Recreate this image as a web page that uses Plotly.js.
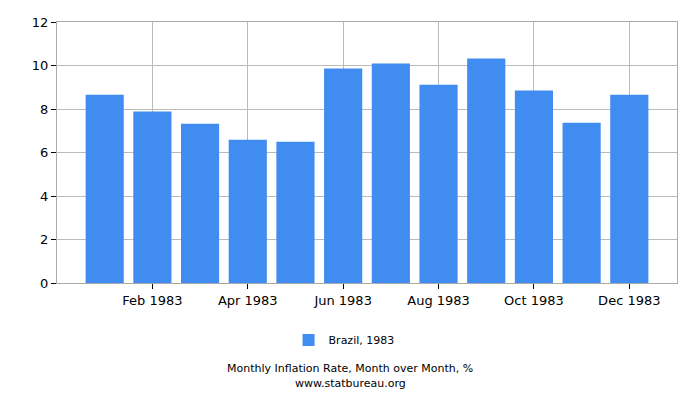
<!DOCTYPE html>
<html>
<head>
<meta charset="utf-8">
<script src="https://cdn.plot.ly/plotly-3.0.1.min.js"></script>
<style>
  html, body { margin: 0; padding: 0; background: #fff; }
  #chart { width: 700px; height: 400px; }
</style>
</head>
<body>
<div id="chart"></div>
<script>
// Brazil, monthly inflation 1983 (% month over month)
var months = ["Jan 1983", "Feb 1983", "Mar 1983", "Apr 1983", "May 1983", "Jun 1983",
              "Jul 1983", "Aug 1983", "Sep 1983", "Oct 1983", "Nov 1983", "Dec 1983"];
var rates = [8.66, 7.88, 7.32, 6.59, 6.50, 9.86, 10.09, 9.12, 10.32, 8.85, 7.37, 8.66];
var tickMonths = ["Feb 1983", "Apr 1983", "Jun 1983", "Aug 1983", "Oct 1983", "Dec 1983"];
var yTicks = [0, 2, 4, 6, 8, 10, 12];

var trace = {
  x: months,
  y: rates,
  type: "bar",
  name: "Brazil, 1983",
  marker: { color: "#418cf0" },
  hoverinfo: "x+y"
};

// caption lines under the legend
var note = function (txt, y) {
  return {
    text: txt,
    xref: "paper", yref: "paper",
    x: 0.4726, y: y, xanchor: "center", yanchor: "middle",
    showarrow: false,
    font: { size: 11 }
  };
};

var layout = {
  width: 700,
  height: 400,
  margin: { l: 57, r: 23, t: 22, b: 117 },
  paper_bgcolor: "#fff",
  plot_bgcolor: "#fff",
  font: { family: "DejaVu Sans, Verdana, sans-serif", size: 13, color: "#000" },
  bargap: 0.2,
  showlegend: true,
  legend: {
    orientation: "h",
    x: 0.463, xanchor: "center",
    y: -0.218, yanchor: "middle",
    font: { size: 11 }
  },
  xaxis: {
    type: "category",
    range: [-1, 12],
    tickmode: "array",
    tickvals: tickMonths,
    ticktext: tickMonths,
    ticks: "outside",
    ticklen: 5,
    tickcolor: "#000",
    showgrid: true,
    gridcolor: "#bbb",
    showline: true,
    linecolor: "#aaa",
    mirror: true,
    zeroline: false
  },
  yaxis: {
    range: [0, 12],
    tickmode: "array",
    tickvals: yTicks,
    ticks: "outside",
    ticklen: 5,
    tickcolor: "#000",
    showgrid: true,
    gridcolor: "#bbb",
    showline: true,
    linecolor: "#aaa",
    mirror: true,
    zeroline: false
  },
  annotations: [
    note("Monthly Inflation Rate, Month over Month, %", -0.3295),
    note("www.statbureau.org", -0.385)
  ]
};

Plotly.newPlot("chart", [trace], layout, { displayModeBar: false, staticPlot: true });
</script>
</body>
</html>
